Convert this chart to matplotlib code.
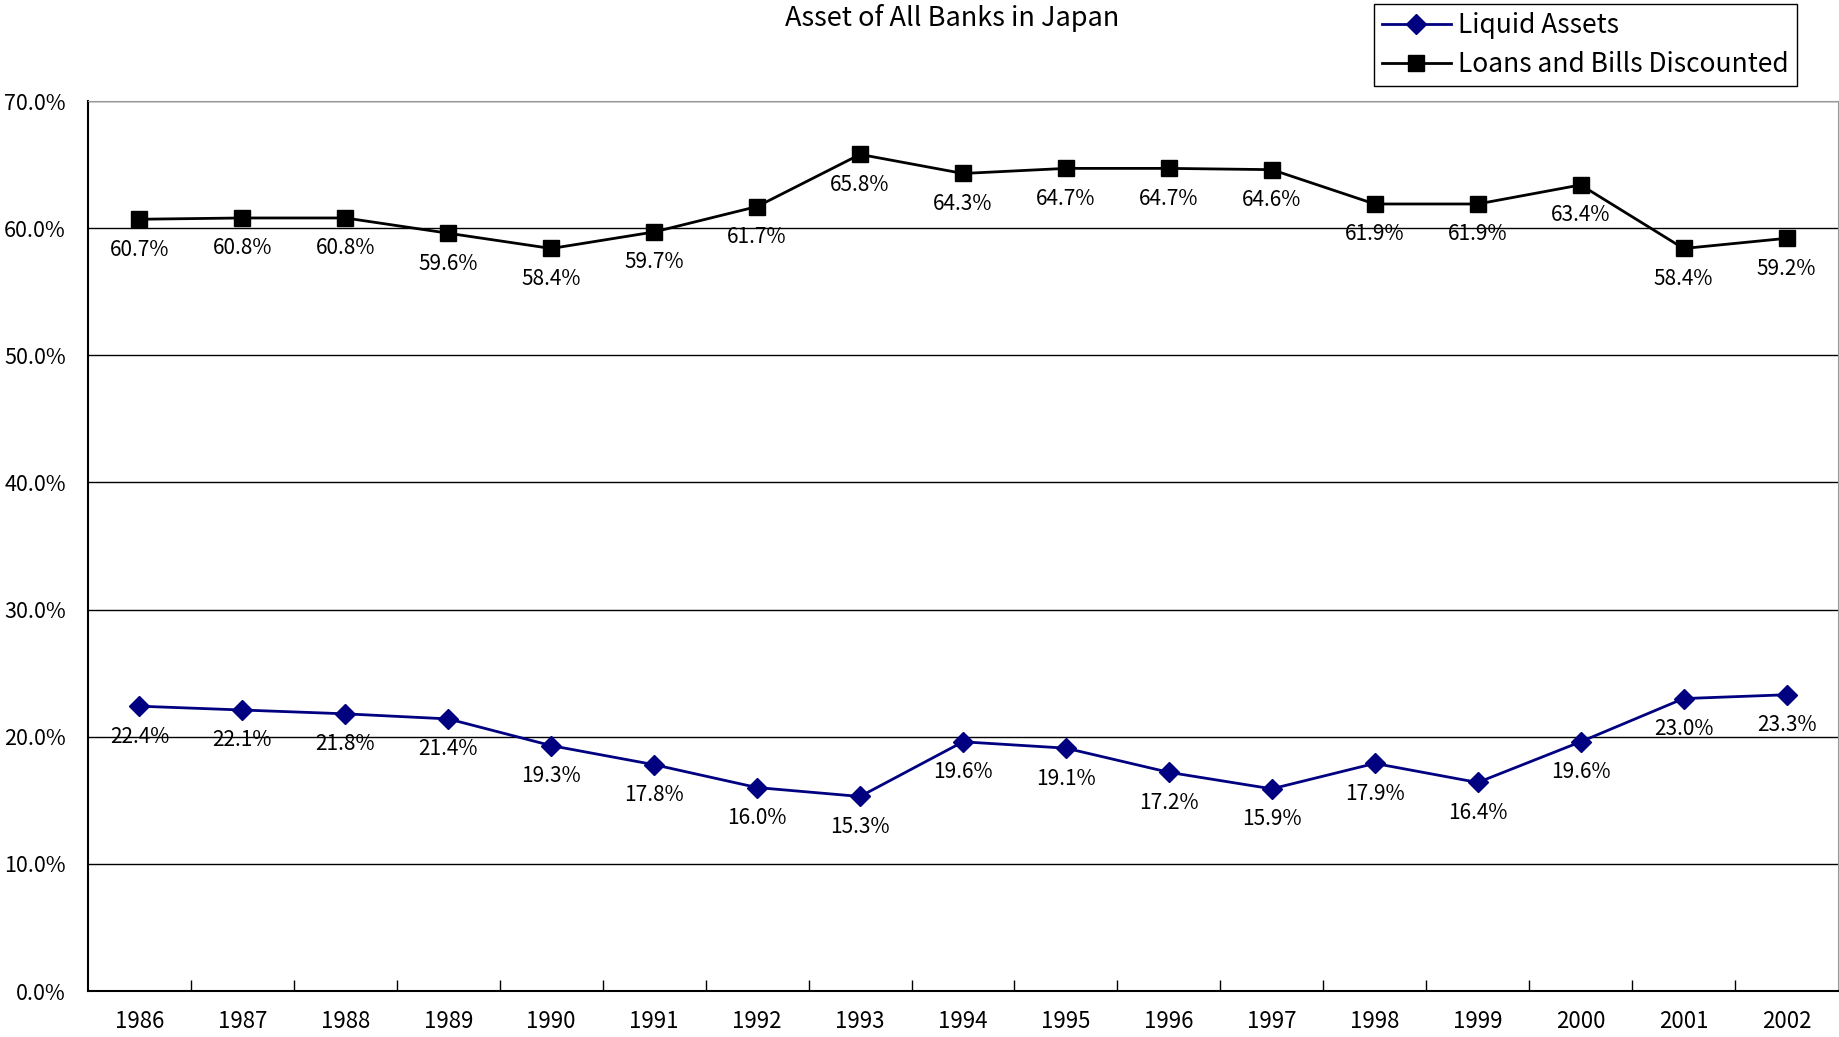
import matplotlib.pyplot as plt
from matplotlib.ticker import FuncFormatter, FixedLocator

plt.rcParams['font.family'] = ['Noto Sans CJK JP', 'DejaVu Sans']

years = ['1986', '1987', '1988', '1989', '1990', '1991', '1992', '1993', '1994',
         '1995', '1996', '1997', '1998', '1999', '2000', '2001', '2002']
liquid = [22.4, 22.1, 21.8, 21.4, 19.3, 17.8, 16.0, 15.3, 19.6,
          19.1, 17.2, 15.9, 17.9, 16.4, 19.6, 23.0, 23.3]
loans = [60.7, 60.8, 60.8, 59.6, 58.4, 59.7, 61.7, 65.8, 64.3,
         64.7, 64.7, 64.6, 61.9, 61.9, 63.4, 58.4, 59.2]

fig = plt.figure(figsize=(18.4, 10.37), dpi=100)
ax = fig.add_axes([88 / 1840, 1 - 991 / 1037, (1838 - 88) / 1840, (991 - 101) / 1037])

x = list(range(len(years)))
l1, = ax.plot(x, liquid, color='#000080', lw=2, marker='D', ms=10,
              label='Liquid Assets', zorder=3)
l2, = ax.plot(x, loans, color='black', lw=2, marker='s', ms=12,
              label='Loans and Bills Discounted', zorder=3)

# value labels under each point
for xs, ys in [(x, liquid), (x, loans)]:
    for xi, yi in zip(xs, ys):
        ax.annotate(f'{yi:.1f}%', (xi, yi), xytext=(0, -14), textcoords='offset points',
                    ha='center', va='top', fontsize=15)

ax.set_xlim(-0.5, len(years) - 0.5)
ax.set_ylim(0, 70)
ax.set_yticks(range(0, 71, 10))
ax.yaxis.set_major_formatter(FuncFormatter(lambda v, p: f'{v:.1f}%'))
ax.grid(axis='y', color='black', lw=1)
ax.set_axisbelow(True)

ax.set_xticks(x)
ax.set_xticklabels(years)
ax.xaxis.set_minor_locator(FixedLocator([i + 0.5 for i in x[:-1]]))
ax.tick_params(axis='x', which='major', length=0, pad=14, labelsize=16)
ax.tick_params(axis='x', which='minor', length=8, direction='in', width=1)
ax.tick_params(axis='y', length=0, pad=16, labelsize=15.5)

for side in ['top', 'right']:
    ax.spines[side].set_color('#999999')
for side in ['left', 'bottom']:
    ax.spines[side].set_color('black')
    ax.spines[side].set_linewidth(1.5)

fig.text(952 / 1840, 1 - 18 / 1037, 'Asset of All Banks in Japan', ha='center', va='center',
         fontsize=19.5)

leg = fig.legend(handles=[l1, l2], loc='upper left',
                 bbox_to_anchor=(1374 / 1840, 1 - 4 / 1037), fontsize=19,
                 frameon=True, fancybox=False, edgecolor='black', framealpha=1,
                 handlelength=2.6, handletextpad=0.3, borderpad=0.3, labelspacing=0.45,
                 borderaxespad=0)
leg.get_frame().set_linewidth(1)

fig.savefig('out.png', dpi=100)
